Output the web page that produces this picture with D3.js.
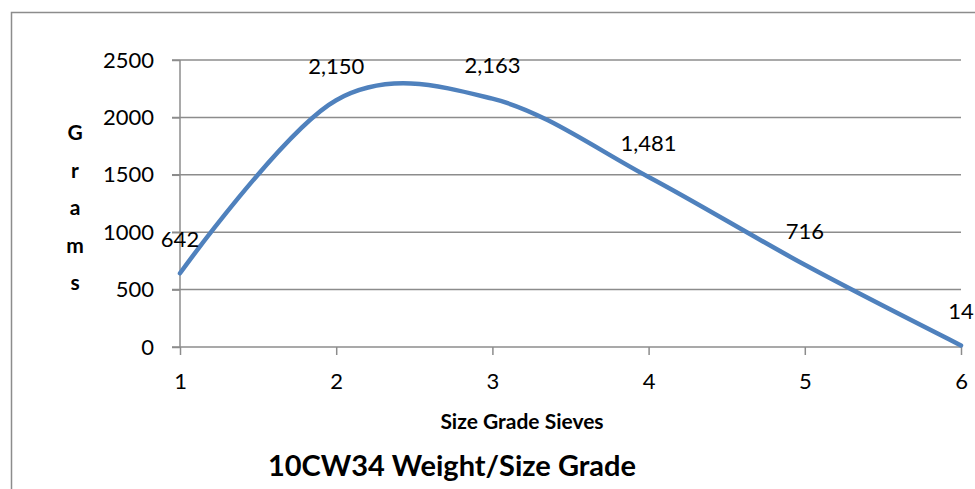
<!DOCTYPE html>
<html>
<head>
<meta charset="utf-8">
<script src="https://cdn.jsdelivr.net/npm/d3@7"></script>
<style>
  body { margin: 0; background: #fff; }
  svg { font-family: Lato, "Open Sans", sans-serif; }
</style>
</head>
<body>
<div id="chart"></div>
<script>
var sieves = [1, 2, 3, 4, 5, 6];
var grams = [642, 2150, 2163, 1481, 716, 14];
var yTicks = [0, 500, 1000, 1500, 2000, 2500];
var yLetters = ["G", "r", "a", "m", "s"];

var width = 975, height = 489;
var fmt = d3.format(",");

var svg = d3.select("#chart").append("svg")
    .attr("width", width)
    .attr("height", height);

// outer frame (runs off right and bottom)
svg.append("rect")
    .attr("x", 11.5).attr("y", 12.5)
    .attr("width", 1000).attr("height", 600)
    .attr("fill", "none")
    .attr("stroke", "#8c8c8c")
    .attr("stroke-width", 1.5);

var x = d3.scaleLinear().domain([1, 6]).range([180, 961]);
var y = d3.scaleLinear().domain([0, 2500]).range([347, 60]);

// gridlines
svg.append("g").selectAll("line")
    .data(yTicks.slice(1))
    .enter().append("line")
    .attr("x1", 172).attr("x2", 961)
    .attr("y1", function(d) { return y(d); })
    .attr("y2", function(d) { return y(d); })
    .attr("stroke", "#8c8c8c")
    .attr("stroke-width", 1.5);

// y axis
var yAxis = d3.axisLeft(y).tickValues(yTicks).tickFormat(d3.format("d"))
    .tickSize(8).tickPadding(18);
var gy = svg.append("g").attr("transform", "translate(180,0)").call(yAxis);

// x axis
var xAxis = d3.axisBottom(x).tickValues(sieves).tickFormat(d3.format("d"))
    .tickSize(8).tickPadding(18);
var gx = svg.append("g").attr("transform", "translate(0,347)").call(xAxis);

[gy, gx].forEach(function(g) {
    g.select(".domain").attr("stroke", "#8c8c8c").attr("stroke-width", 1.5);
    g.selectAll(".tick line").attr("stroke", "#8c8c8c").attr("stroke-width", 1.5);
    g.selectAll(".tick text")
        .attr("fill", "#000")
        .style("font-size", "22px")
        .style("font-family", "Lato, sans-serif");
});
gy.select(".domain").attr("d", "M0,60V347");
gx.select(".domain").attr("d", "M172,0H961");

// smoothed line
var line = d3.line()
    .x(function(d, i) { return x(sieves[i]); })
    .y(function(d) { return y(d); })
    .curve(d3.curveCardinal.tension(0));

svg.append("path")
    .datum(grams)
    .attr("d", line)
    .attr("fill", "none")
    .attr("stroke", "#4f81bd")
    .attr("stroke-width", 4.5)
    .attr("stroke-linecap", "round");

// data labels
svg.append("g").selectAll("text")
    .data(grams)
    .enter().append("text")
    .attr("x", function(d, i) { return x(sieves[i]); })
    .attr("y", function(d) { return y(d) - 26; })
    .attr("text-anchor", "middle")
    .style("font-size", "22px")
    .text(function(d) { return fmt(d); });

// y title, stacked letters
svg.append("g").selectAll("text")
    .data(yLetters)
    .enter().append("text")
    .attr("x", 75)
    .attr("y", function(d, i) { return 140 + i * 37.5; })
    .attr("text-anchor", "middle")
    .style("font-size", "21px")
    .style("font-weight", "bold")
    .text(function(d) { return d; });

// x title
svg.append("text")
    .attr("x", 522).attr("y", 429)
    .attr("text-anchor", "middle")
    .style("font-size", "21px")
    .style("font-weight", "bold")
    .text("Size Grade Sieves");

// chart title
svg.append("text")
    .attr("x", 452).attr("y", 476)
    .attr("text-anchor", "middle")
    .style("font-size", "29px")
    .style("font-weight", "bold")
    .text("10CW34 Weight/Size Grade");
</script>
</body>
</html>
